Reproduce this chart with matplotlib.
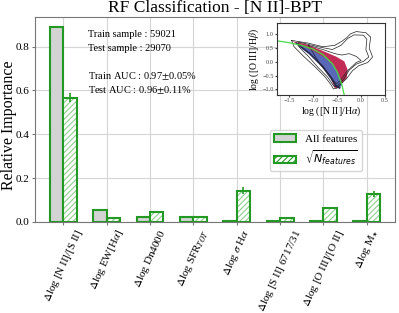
import numpy as np
import matplotlib
matplotlib.use("Agg")
import matplotlib.pyplot as plt
from matplotlib.patches import Patch
from matplotlib.font_manager import FontProperties

plt.rcParams['font.family'] = 'serif'
plt.rcParams['font.serif'] = ['Liberation Serif', 'DejaVu Serif']
plt.rcParams['mathtext.fontset'] = 'stix'
plt.rcParams['hatch.linewidth'] = 0.8

# degerler
etiketler = [r'$\Delta$log [N II]/[S II]', r'$\Delta$log EW[H$\alpha$]', r'$\Delta$log Dn4000',
             r'$\Delta$log SFR$_{TOT}$', r'$\Delta$log $\sigma$ H$\alpha$', r'$\Delta$log [S II] 6717/31',
             r'$\Delta$log [O III]/[O II]', r'$\Delta$log M$_{\star}$']
tum_ozellik = [0.889, 0.053, 0.023, 0.023, 0.006, 0.002, 0.003, 0.003]
tum_hata = [0.002, 0.002, 0.004, 0.002, 0.0, 0.0, 0.0, 0.0]
kok_ozellik = [0.567, 0.018, 0.045, 0.022, 0.142, 0.017, 0.064, 0.126]
kok_hata = [0.02, 0.002, 0.004, 0.002, 0.016, 0.002, 0.006, 0.014]
y_ticks = [0.0, 0.2, 0.4, 0.6, 0.8]

# BPT ic grafik verileri
ayrim_x = [-1.75, -1.5, -1.25, -1.0, -0.8, -0.6, -0.5, -0.4, -0.35]
ayrim_y = [0.763, 0.697, 0.604, 0.46, 0.271, -0.066, -0.358, -0.838, -1.216]
kirmizi_x = [-1.46, -1.15, -0.8, -0.52, -0.35, -0.28, -0.30, -0.42, -0.49, -0.55, -0.63, -0.80, -1.08, -1.35]
kirmizi_y = [0.76, 0.64, 0.40, 0.19, 0.02, -0.29, -0.58, -0.82, -0.95, -0.95, -0.6, -0.17, 0.31, 0.67]
mavi_x = [-1.35, -1.08, -0.80, -0.63, -0.52, -0.45, -0.40, -0.45, -0.55, -0.75, -1.0, -1.25]
mavi_y = [0.67, 0.31, -0.17, -0.58, -0.88, -0.94, -0.85, -0.5, -0.2, 0.15, 0.40, 0.60]
kontur1_x = [-1.45, -1.1, -0.8, -0.55, -0.4, -0.3, -0.22, -0.1, 0.1, 0.2, 0.17, 0.24, 0.14, -0.05, -0.18,
             -0.3, -0.42, -0.5, -0.58, -0.62, -0.75, -0.95, -1.2, -1.4, -1.45]
kontur1_y = [0.78, 0.68, 0.55, 0.6, 0.75, 0.88, 1.02, 1.1, 1.06, 0.9, 0.5, 0.18, -0.02, -0.14, -0.32,
             -0.6, -0.8, -0.95, -0.98, -0.85, -0.55, -0.2, 0.2, 0.55, 0.78]
kontur2_x = [-1.3, -0.9, -0.6, -0.42, -0.28, -0.15, 0.05, 0.12, 0.1, 0.16, 0.05, -0.1, -0.25, -0.36,
             -0.48, -0.56, -0.7, -0.9, -1.1, -1.3, -1.3]
kontur2_y = [0.72, 0.55, 0.45, 0.6, 0.85, 0.98, 0.97, 0.82, 0.45, 0.18, 0.02, -0.08, -0.3, -0.62,
             -0.85, -0.9, -0.55, -0.2, 0.2, 0.55, 0.72]
kontur3_x = [-1.1, -0.8, -0.55, -0.4, -0.25, -0.1, 0.0, -0.1, -0.3, -0.42, -0.52, -0.65, -0.85, -1.1]
kontur3_y = [0.6, 0.45, 0.3, 0.25, 0.3, 0.2, 0.05, -0.02, -0.35, -0.65, -0.8, -0.5, -0.1, 0.6]

yesil = '#229922'
x = np.arange(len(etiketler))
w = 0.31

fig = plt.figure(figsize=(3.99, 3.13), dpi=100)
ax = fig.add_axes([0.088, 0.291, 0.902, 0.656])
ax.set_axisbelow(True)
ax.grid(True, color='#d5d5d5', lw=0.8)

ax.bar(x - w / 2, tum_ozellik, w, color='lightgray', edgecolor=yesil, lw=1.5, zorder=2)
ax.errorbar(x - w / 2, tum_ozellik, yerr=tum_hata, fmt='none', ecolor=yesil, elinewidth=1.2, zorder=3)
ax.bar(x + w / 2, kok_ozellik, w, color='white', edgecolor='#8fd08f', hatch='//////', lw=0, zorder=2)
ax.bar(x + w / 2, kok_ozellik, w, fill=False, edgecolor=yesil, lw=1.5, zorder=2)
ax.errorbar(x + w / 2, kok_ozellik, yerr=kok_hata, fmt='none', ecolor=yesil, elinewidth=1.2, zorder=3)

ax.set_xlim(-0.65, 7.65)
ax.set_ylim(0, 0.937)
ax.set_yticks(y_ticks)
ax.set_yticklabels(['%.1f' % v for v in y_ticks], fontsize=8)
ax.set_xticks(x)
ax.set_xticklabels(etiketler, rotation=65, ha='center', fontsize=8)
ax.tick_params(length=2, color='#777777', pad=2)
for s in ax.spines.values():
    s.set_color('#777777')
ax.set_ylabel('Relative Importance', fontsize=11.5)
ax.yaxis.label.set_va('center')
ax.yaxis.set_label_coords(-0.073, 0.47)
ax.set_title('RF Classification - [N II]-BPT', fontsize=12.5, pad=3)

ax.text(0.147, 0.914, 'Train sample : 59021', transform=ax.transAxes, fontsize=7.5, va='center')
ax.text(0.147, 0.843, 'Test sample : 29070', transform=ax.transAxes, fontsize=7.5, va='center')
ax.text(0.147, 0.711, r'Train AUC : 0.97$\pm$0.05%', transform=ax.transAxes, fontsize=7.5, va='center')
ax.text(0.147, 0.643, r'Test AUC : 0.96$\pm$0.11%', transform=ax.transAxes, fontsize=7.5, va='center')

h1 = Patch(facecolor='lightgray', edgecolor=yesil, lw=1.5, label='All features')
h2 = Patch(facecolor='white', edgecolor=yesil, hatch='//////', lw=1.5, label=r'$\sqrt{N_{features}}$')
ax.legend(handles=[h1, h2], loc='upper right', bbox_to_anchor=(0.925, 0.475),
          prop=FontProperties(family='serif', size=8, math_fontfamily='dejavusans'),
          handlelength=2.0, borderpad=0.4, labelspacing=0.4)

# ic grafik: BPT
ic = fig.add_axes([0.695, 0.6965, 0.27, 0.229])
ic.fill(kirmizi_x, kirmizi_y, color='#c02c55', lw=0)
ic.fill(mavi_x, mavi_y, color='#5a68b8', lw=0)
ic.plot(mavi_x[:6], mavi_y[:6], color='#262a55', lw=1.3)
for kx, ky in [(kontur1_x, kontur1_y), (kontur2_x, kontur2_y), (kontur3_x, kontur3_y)]:
    ic.plot(kx, ky, color='#222222', lw=0.5)
ic.plot(ayrim_x, ayrim_y, color='#44dd44', lw=0.9)
ic.set_xlim(-1.75, 0.5)
ic.set_ylim(-1.2, 1.4)
ic.set_xticks([-1.5, -1.0, -0.5, 0.0, 0.5])
ic.set_yticks([-1.0, -0.5, 0.0, 0.5, 1.0])
ic.tick_params(labelsize=4.5, length=1.5, pad=1, colors='#444444')
ic.set_xlabel(r'log ([N II]/H$\alpha$)', fontsize=7, labelpad=1)
ic.set_ylabel(r'log ([O III]/H$\beta$)', fontsize=7, labelpad=1)
for s in ic.spines.values():
    s.set_color('#333333')
    s.set_linewidth(0.8)

fig.savefig('out.png', dpi=100)
